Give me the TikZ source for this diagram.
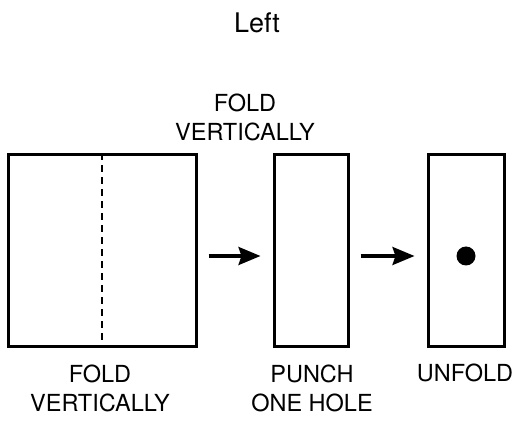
\documentclass[tikz,border=0pt]{standalone}
\usepackage{fontspec}
\setmainfont{TeX Gyre Heros}
\usetikzlibrary{arrows.meta}

\tikzset{
  sheet/.style={draw=black,line width=3pt,minimum height=192pt,inner sep=0pt},
  lbl/.style={font=\fontsize{23.5}{29}\selectfont,align=center,text=black,inner sep=0pt},
  stepArrow/.style={-{Stealth[length=22pt,width=18pt,inset=3pt]},line width=3.2pt,shorten <=11pt,shorten >=12pt},
  hole/.style={circle,fill=black,minimum size=19pt,inner sep=0pt}
}

\begin{document}
\begin{tikzpicture}[x=1pt,y=1pt]
\useasboundingbox (0,0) rectangle (531,421);

% title
\node[lbl,font=\fontsize{27}{32}\selectfont] (title) at (257,398) {Left};

% the three sheets
\node[sheet,minimum width=188pt] (square) at (102,170) {};
\node[sheet,minimum width=74pt] (folded) at (311,170) {};
\node[sheet,minimum width=76pt] (unfolded) at (466,170) {};

% fold line
\draw[line width=2.2pt,dash pattern=on 7pt off 5pt] (square.north) -- (square.south);

% the hole
\node[hole] (dot) at ([yshift=-5pt]unfolded.center) {};

% arrows
\draw[stepArrow] ([yshift=-5pt]square.east) -- ([yshift=-5pt]folded.west);
\draw[stepArrow] ([yshift=-5pt]folded.east) -- ([yshift=-5pt]unfolded.west);

% labels
\node[lbl] (foldtop) at (245,304) {FOLD\\VERTICALLY};
\node[lbl] (foldbot) at (100,33) {FOLD\\VERTICALLY};
\node[lbl] (punch) at (312,33) {PUNCH\\ONE HOLE};
\node[lbl] (unfold) at (465,48) {UNFOLD};

\end{tikzpicture}
\end{document}
